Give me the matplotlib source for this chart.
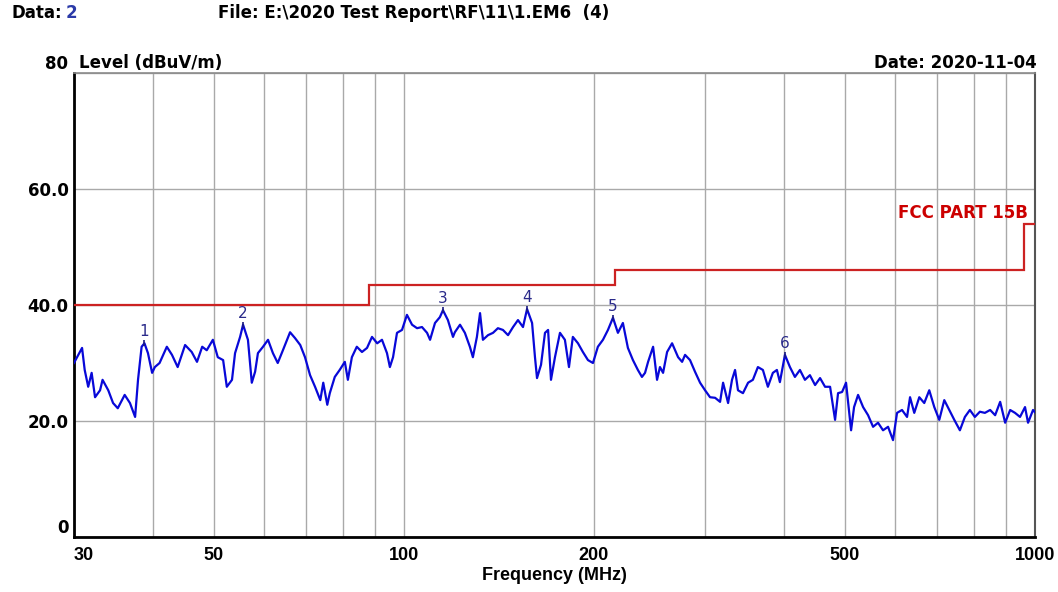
import matplotlib
matplotlib.use("Agg")
import matplotlib.pyplot as plt

# ---------------- data ----------------
freqs_mhz = [
    30.0, 30.9, 31.2, 31.6, 32.0, 32.4, 33.0, 33.3, 34.0, 34.6, 35.2, 36.1, 36.8, 37.5, 37.9,
    38.4, 38.8, 39.3, 39.9, 40.3, 41.0, 42.1, 42.9, 43.8, 45.0, 46.1, 47.0, 47.9, 48.7, 49.8,
    50.7, 51.7, 52.4, 53.4, 54.0, 55.0, 55.6, 56.6, 57.4, 58.1, 58.7, 59.8, 60.9, 62.0, 63.1,
    64.3, 66.0, 67.2, 68.5, 69.7, 71.0, 72.3, 73.7, 74.5, 75.6, 76.3, 77.7, 79.1, 80.6, 81.5,
    82.7, 84.2, 85.8, 87.4, 89.0, 90.7, 92.3, 94.0, 95.0, 96.1, 97.5, 99.3, 101.1, 103.0, 104.9,
    106.8, 108.8, 110.0, 112.0, 114.0, 115.3, 117.4, 119.6, 120.4, 122.7, 124.9, 127.2, 128.6,
    130.5, 132.0, 133.4, 135.9, 138.4, 140.9, 143.5, 146.2, 148.9, 151.6, 154.4, 156.7, 159.6,
    161.3, 162.5, 164.9, 167.3, 169.2, 171.0, 173.5, 176.7, 179.9, 182.6, 185.2, 188.7, 192.1,
    195.7, 199.3, 202.9, 206.7, 210.5, 214.4, 218.3, 222.3, 226.4, 230.6, 234.8, 238.3, 241.0,
    243.7, 248.2, 251.8, 254.5, 257.4, 261.2, 266.0, 268.9, 271.9, 275.9, 278.9, 284.0, 289.2,
    294.6, 300.0, 305.5, 311.2, 316.9, 320.4, 326.3, 331.0, 334.7, 338.3, 344.5, 351.0, 357.2,
    363.8, 370.5, 377.3, 384.2, 389.9, 394.2, 401.5, 408.9, 416.4, 424.1, 431.9, 439.8, 448.2,
    456.4, 464.8, 473.4, 482.1, 487.4, 494.6, 501.8, 511.1, 516.7, 524.3, 534.0, 543.8, 553.8,
    563.9, 574.3, 584.9, 595.6, 604.4, 615.5, 626.9, 633.8, 643.6, 655.5, 667.5, 679.8, 692.4,
    705.1, 718.1, 731.4, 744.8, 760.2, 774.2, 788.4, 802.9, 817.7, 832.8, 848.9, 864.5, 880.5,
    896.7, 913.2, 929.6, 946.7, 964.1, 974.8, 992.7, 1000.0,
]
levels_dbuv = [
    30.0, 32.6, 28.8, 25.9, 28.3, 24.1, 25.3, 27.1, 25.3, 23.1, 22.2, 24.5, 23.1, 20.7, 27.1,
    32.8, 33.4, 31.7, 28.3, 29.3, 30.0, 32.8, 31.4, 29.3, 33.1, 31.9, 30.2, 32.8, 32.2, 34.0,
    31.0, 30.5, 25.9, 27.1, 31.7, 34.5, 36.6, 34.0, 26.6, 28.5, 31.7, 32.8, 34.0, 31.7, 30.0,
    32.2, 35.3, 34.3, 33.1, 31.0, 27.9, 25.9, 23.6, 26.6, 22.8, 24.8, 27.6, 28.8, 30.2, 27.1,
    31.0, 32.8, 31.9, 32.6, 34.5, 33.4, 34.0, 31.7, 29.3, 31.0, 35.2, 35.7, 38.3, 36.6, 36.0,
    36.2, 35.2, 34.0, 36.9, 37.9, 39.1, 37.4, 34.5, 35.3, 36.6, 35.2, 32.8, 31.0,
    34.5, 38.6, 34.0, 34.8, 35.2, 36.0, 35.7, 34.8, 36.2, 37.4, 36.2, 39.3, 36.9,
    31.0, 27.4, 29.7, 35.2, 35.7, 27.1, 31.0, 35.2, 34.0, 29.3, 34.5, 33.4, 31.9,
    30.5, 30.0, 32.8, 34.0, 35.7, 37.8, 35.2, 36.9, 32.6, 30.5, 28.8, 27.6, 28.3,
    30.2, 32.8, 27.1, 29.3, 28.3, 31.9, 33.4, 32.2, 31.0, 30.2, 31.4, 30.5, 28.5,
    26.6, 25.3, 24.1, 24.0, 23.3, 26.6, 23.1, 27.1, 28.8, 25.3, 24.8, 26.6, 27.1,
    29.3, 28.8, 25.9, 28.3, 28.8, 26.7, 31.4, 29.3, 27.6, 28.8, 27.1, 27.9, 26.2,
    27.4, 25.9, 25.9, 20.2, 24.8, 25.0, 26.6, 18.4, 22.4, 24.5, 22.4, 21.0, 19.0,
    19.7, 18.4, 19.0, 16.7, 21.4, 21.9, 20.7, 24.1, 21.4, 24.1, 23.1, 25.3, 22.4,
    20.2, 23.6, 21.9, 20.2, 18.4, 20.7, 21.9, 20.7, 21.6, 21.4, 21.9, 21.0, 23.3,
    19.7, 21.9, 21.4, 20.7, 22.4, 19.7, 21.9, 21.5,
]

limit_edges_mhz = [30, 88, 216, 960, 1000]
limit_levels = [40.0, 43.5, 46.0, 54.0]
limit_name = "FCC PART 15B"

marker_ids = ["1", "2", "3", "4", "5", "6"]
marker_freqs = [38.8, 55.6, 115.3, 156.7, 214.4, 401.5]
marker_levels = [33.4, 36.6, 39.1, 39.3, 37.8, 31.4]

xtick_values = [30, 50, 100, 200, 500, 1000]
xtick_labels = ["30", "50", "100", "200", "500", "1000"]
xgrid_minor = [40, 60, 70, 80, 90, 300, 400, 600, 700, 800, 900]
ytick_values = [0, 20, 40, 60, 80]
ytick_labels = ["0", "20.0", "40.0", "60.0", "80"]

# ---------------- figure ----------------
MAIN = ["DejaVu Sans"]
NARROW = ["Liberation Sans Narrow", "Liberation Sans", "DejaVu Sans"]
plt.rcParams["font.family"] = MAIN
fig = plt.figure(figsize=(10.58, 5.92), dpi=100)
ax = fig.add_axes([0.0699, 0.0929, 0.9084, 0.7838])
ax.set_xscale("log")
ax.set_xlim(30, 1000)
ax.set_ylim(0, 80)

ax.set_xticks(xtick_values)
ax.set_xticks(xgrid_minor, minor=True)
ax.set_xticklabels(xtick_labels, minor=False)
ax.set_xticklabels([], minor=True)
ax.set_yticks(ytick_values)
ax.set_yticklabels(ytick_labels)

ax.grid(True, which="both", axis="x", color="#a9a9a9", lw=1.0)
ax.grid(True, which="major", axis="y", color="#a9a9a9", lw=1.0)
ax.set_axisbelow(True)

ax.tick_params(axis="both", which="both", length=0)
ax.tick_params(axis="x", pad=7)
ax.tick_params(axis="y", pad=4)
for t in ax.get_xticklabels():
    t.set_family(NARROW)
    t.set_fontsize(13)
    t.set_fontweight("bold")
    if t.get_text() == "30":
        t.set_ha("left")
for t in ax.get_yticklabels():
    t.set_fontsize(12)
    t.set_fontweight("bold")
    if t.get_text() in ("0", "80"):
        t.set_va("bottom")

for s in ("left", "bottom"):
    ax.spines[s].set_color("black")
    ax.spines[s].set_linewidth(2.0)
ax.spines["top"].set_color("#8a8a8a")
ax.spines["top"].set_linewidth(1.2)
ax.spines["right"].set_color("#555555")
ax.spines["right"].set_linewidth(1.5)

# limit line
ax.stairs(limit_levels, limit_edges_mhz, baseline=None, color="#cc2222", lw=1.6, zorder=3)
ax.text(975, 55.0, limit_name, color="#cc0000", fontsize=12, fontweight="bold",
        ha="right", va="baseline")

# trace
ax.plot(freqs_mhz, levels_dbuv, color="#0808d8", lw=1.6, zorder=4)

# markers
for mid, mf, ml in zip(marker_ids, marker_freqs, marker_levels):
    ax.plot([mf], [ml], marker="|", color="#1a1a80", ms=5, mew=1.2, zorder=5)
    ax.annotate(mid, (mf, ml), xytext=(0, 3), textcoords="offset points",
                ha="center", va="bottom", fontsize=11, color="#2a2a8a")

# texts
fig.text(0.0747, 0.893, "Level (dBuV/m)", fontsize=12, fontweight="bold", ha="left", va="center")
fig.text(0.980, 0.893, "Date: 2020-11-04", fontsize=12, fontweight="bold", ha="right", va="center")
fig.text(0.0113, 0.978, "Data:", fontsize=12, fontweight="bold", ha="left", va="center")
fig.text(0.062, 0.978, "2", fontsize=12, fontweight="bold", ha="left", va="center", color="#2b3aa8")
fig.text(0.206, 0.978, "File: E:\\2020 Test Report\\RF\\11\\1.EM6  (4)", fontsize=12,
         fontweight="bold", ha="left", va="center")
ax.set_xlabel("Frequency (MHz)", fontsize=13, fontweight="bold", labelpad=2, family=NARROW)

fig.savefig("out.png", dpi=100, facecolor="white")
